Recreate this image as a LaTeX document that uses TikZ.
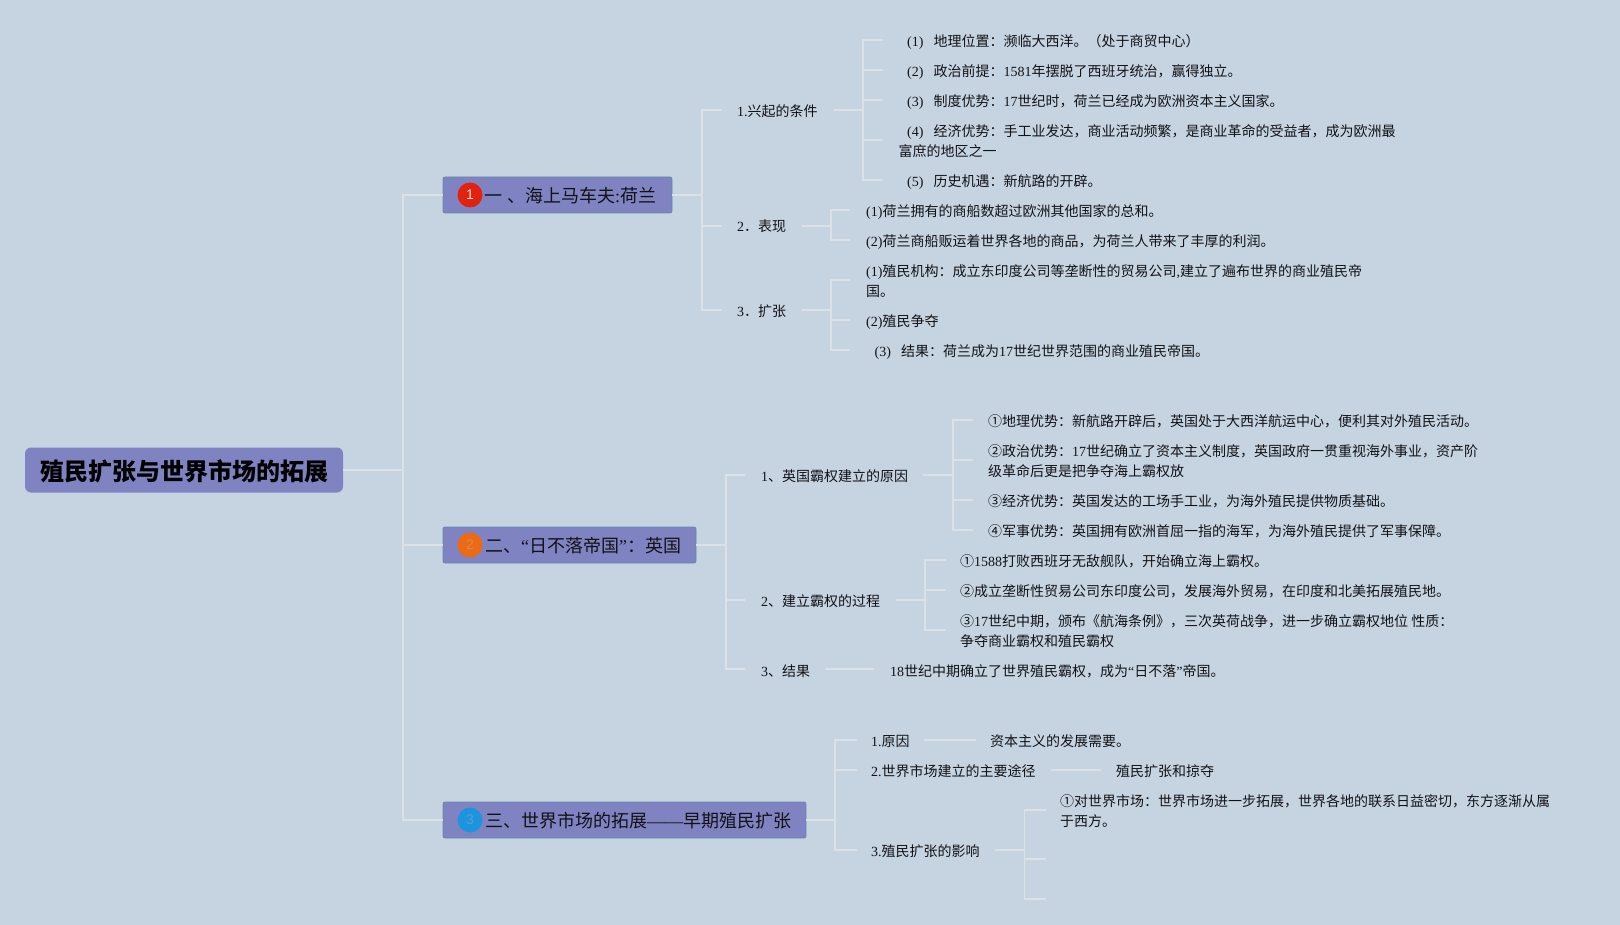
\documentclass[tikz,border=0pt]{standalone}
\usepackage{fontspec}
\setmainfont{Noto Sans CJK SC}
\newfontfamily\lat{Liberation Serif}
\newfontfamily\badgefont{Liberation Sans}
\definecolor{bgc}{RGB}{198,212,226}
\definecolor{boxc}{RGB}{128,131,194}
\definecolor{edgec}{RGB}{96,140,165}
\definecolor{linec}{RGB}{219,225,231}
\definecolor{txtc}{RGB}{18,18,22}
\definecolor{rd}{RGB}{224,34,14}
\definecolor{og}{RGB}{236,106,20}
\definecolor{bl}{RGB}{28,148,222}
\tikzset{
 x=1pt,y=-1pt,
 conn/.style={draw=linec,line width=1.8pt},
 leaf/.style={anchor=north west,inner sep=0pt,align=left,text=txtc,font=\fontsize{14}{20}\selectfont},
 branch/.style={draw=edgec,line width=0.8pt,fill=boxc,rounded corners=2pt,inner sep=0pt},
 topic/.style={anchor=base west,inner sep=0pt,text=txtc,font=\fontsize{18}{22}\selectfont},
 badge/.style={circle,inner sep=0pt,minimum size=25pt,font=\badgefont\fontsize{14}{14}\selectfont},
}
\newcommand{\rl}{\rule{0pt}{13pt}}
\newcommand{\la}[1]{{\lat #1}}
\newcommand{\pn}[1]{\hspace{8.5pt}{\lat(#1)}\hspace{10.2pt}}
\begin{document}
\begin{tikzpicture}
\fill[bgc] (0,0) rectangle (1620,925);
\useasboundingbox (0,0) rectangle (1620,925);

% root and topics
\node[fill=boxc,rounded corners=6pt,minimum width=318pt,minimum height=45pt,inner sep=0pt] (root) at (184,470) {};
\node[anchor=base west,inner sep=0pt,text=black,font=\fontsize{24}{28}\bfseries\selectfont] (roott) at (40,480) {殖民扩张与世界市场的拓展};

\node[branch,minimum width=229pt,minimum height=36pt] (b1) at (557.5,195) {};
\node[branch,minimum width=253pt,minimum height=36pt] (b2) at (569.5,545) {};
\node[branch,minimum width=363pt,minimum height=36pt] (b3) at (624.5,820) {};
\node[badge,fill=rd,text=white!85!rd] (bd1) at (470,195) {1};
\node[badge,fill=og,text=white!25!og!75!gray] (bd2) at (470,545) {2};
\node[badge,fill=bl,text=white!20!bl!75!gray] (bd3) at (470,820) {3};
\node[topic] (t1) at (484.5,202.5) {一\hspace{4.5pt}、海上马车夫\la{:}荷兰};
\node[topic] (t2) at (485,552) {二、\la{“}日不落帝国\la{”}：英国};
\node[topic] (t3) at (485,827) {三、世界市场的拓展\la{——}早期殖民扩张};

% leaves
\node[leaf] (a1) at (737,103) {\rl{}\la{1.}兴起的条件};
\node[leaf] (a11) at (898.5,33) {\rl{}\pn{1}地理位置：濒临大西洋。（处于商贸中心）};
\node[leaf] (a12) at (898.5,63) {\rl{}\pn{2}政治前提：\la{1581}年摆脱了西班牙统治，赢得独立。};
\node[leaf] (a13) at (898.5,93) {\rl{}\pn{3}制度优势：\la{17}世纪时，荷兰已经成为欧洲资本主义国家。};
\node[leaf] (a14) at (898.5,123) {\rl{}\pn{4}经济优势：手工业发达，商业活动频繁，是商业革命的受益者，成为欧洲最\\\rl{}富庶的地区之一};
\node[leaf] (a15) at (898.5,173) {\rl{}\pn{5}历史机遇：新航路的开辟。};
\node[leaf] (a2) at (737,218) {\rl{}\la{2}．表现};
\node[leaf] (a21) at (866,203) {\rl{}\la{(1)}荷兰拥有的商船数超过欧洲其他国家的总和。};
\node[leaf] (a22) at (866,233) {\rl{}\la{(2)}荷兰商船贩运着世界各地的商品，为荷兰人带来了丰厚的利润。};
\node[leaf] (a3) at (737,303) {\rl{}\la{3}．扩张};
\node[leaf] (a31) at (866,263) {\rl{}\la{(1)}殖民机构：成立东印度公司等垄断性的贸易公司\la{,}建立了遍布世界的商业殖民帝\\\rl{}国。};
\node[leaf] (a32) at (866,313) {\rl{}\la{(2)}殖民争夺};
\node[leaf] (a33) at (866,343) {\rl{}\pn{3}结果：荷兰成为\la{17}世纪世界范围的商业殖民帝国。};

\node[leaf] (c1) at (761,468) {\rl{}\la{1}、英国霸权建立的原因};
\node[leaf] (c11) at (988,413) {\rl{}①地理优势：新航路开辟后，英国处于大西洋航运中心，便利其对外殖民活动。};
\node[leaf] (c12) at (988,443) {\rl{}②政治优势：\la{17}世纪确立了资本主义制度，英国政府一贯重视海外事业，资产阶\\\rl{}级革命后更是把争夺海上霸权放};
\node[leaf] (c13) at (988,493) {\rl{}③经济优势：英国发达的工场手工业，为海外殖民提供物质基础。};
\node[leaf] (c14) at (988,523) {\rl{}④军事优势：英国拥有欧洲首屈一指的海军，为海外殖民提供了军事保障。};
\node[leaf] (c2) at (761,593) {\rl{}\la{2}、建立霸权的过程};
\node[leaf] (c21) at (960,553) {\rl{}①\la{1588}打败西班牙无敌舰队，开始确立海上霸权。};
\node[leaf] (c22) at (960,583) {\rl{}②成立垄断性贸易公司东印度公司，发展海外贸易，在印度和北美拓展殖民地。};
\node[leaf] (c23) at (960,613) {\rl{}③\la{17}世纪中期，颁布《航海条例》，三次英荷战争，进一步确立霸权地位 性质：\\\rl{}争夺商业霸权和殖民霸权};
\node[leaf] (c3) at (761,663) {\rl{}\la{3}、结果};
\node[leaf] (c31) at (890,663) {\rl{}\la{18}世纪中期确立了世界殖民霸权，成为\la{“}日不落\la{”}帝国。};

\node[leaf] (d1) at (871,733) {\rl{}\la{1.}原因};
\node[leaf] (d11) at (990,733) {\rl{}资本主义的发展需要。};
\node[leaf] (d2) at (871,763) {\rl{}\la{2.}世界市场建立的主要途径};
\node[leaf] (d21) at (1116,763) {\rl{}殖民扩张和掠夺};
\node[leaf] (d3) at (871,843) {\rl{}\la{3.}殖民扩张的影响};
\node[leaf] (d31) at (1060,793) {\rl{}①对世界市场：世界市场进一步拓展，世界各地的联系日益密切，东方逐渐从属\\\rl{}于西方。};

% junctions and stub ends
\coordinate (J) at (403,470);
\coordinate (J1) at (702,195);
\coordinate (J2) at (726,545);
\coordinate (J3) at (835,820);
\foreach \n/\x/\y in {a1s/722/110,a2s/722/226,a3s/722/310,
  a1o/834/110,a1j/863/110,a11s/883/40,a12s/883/70,a13s/883/100,a14s/883/140,a15s/883/180,
  a2o/802/226,a2j/831/226,a21s/850/210,a22s/850/240,
  a3o/802/310,a3j/831/310,a31s/850/280,a32s/850/320,a33s/850/350,
  c1s/745/475,c2s/745/600,c3s/745/669,
  c1o/923/475,c1j/953/475,c11s/973/420,c12s/973/460,c13s/973/500,c14s/973/530,
  c2o/896/600,c2j/925/600,c21s/946/560,c22s/946/590,c23s/946/630,
  c3o/825/669,c3e/873.5/669,
  d1s/857/740,d2s/857/770,d3s/857/850,
  d1o/924/740,d1e/976/740,d2o/1050.5/770,d2e/1101/770,
  d3o/995/850,d3j/1024.5/850,d31s/1046/810,d32s/1046/859,d33s/1046/899}
  {\coordinate (\n) at (\x,\y);}

\draw[conn] (root.east) -- (J);
\draw[conn] (J) |- (b1.west);
\draw[conn] (J) |- (b2.west);
\draw[conn] (J) |- (b3.west);
\draw[conn] (b1.east) -- (J1);
\draw[conn] (J1) |- (a1s); \draw[conn] (J1) |- (a2s); \draw[conn] (J1) |- (a3s);
\draw[conn] (a1o) -- (a1j);
\foreach \s in {a11s,a12s,a13s,a14s,a15s} {\draw[conn] (a1j) |- (\s);}
\draw[conn] (a2o) -- (a2j);
\foreach \s in {a21s,a22s} {\draw[conn] (a2j) |- (\s);}
\draw[conn] (a3o) -- (a3j);
\foreach \s in {a31s,a32s,a33s} {\draw[conn] (a3j) |- (\s);}
\draw[conn] (b2.east) -- (J2);
\draw[conn] (J2) |- (c1s); \draw[conn] (J2) |- (c2s); \draw[conn] (J2) |- (c3s);
\draw[conn] (c1o) -- (c1j);
\foreach \s in {c11s,c12s,c13s,c14s} {\draw[conn] (c1j) |- (\s);}
\draw[conn] (c2o) -- (c2j);
\foreach \s in {c21s,c22s,c23s} {\draw[conn] (c2j) |- (\s);}
\draw[conn] (c3o) -- (c3e);
\draw[conn] (b3.east) -- (J3);
\draw[conn] (J3) |- (d1s); \draw[conn] (J3) |- (d2s); \draw[conn] (J3) |- (d3s);
\draw[conn] (d1o) -- (d1e);
\draw[conn] (d2o) -- (d2e);
\draw[conn] (d3o) -- (d3j);
\foreach \s in {d31s,d32s,d33s} {\draw[conn] (d3j) |- (\s);}
\end{tikzpicture}
\end{document}
